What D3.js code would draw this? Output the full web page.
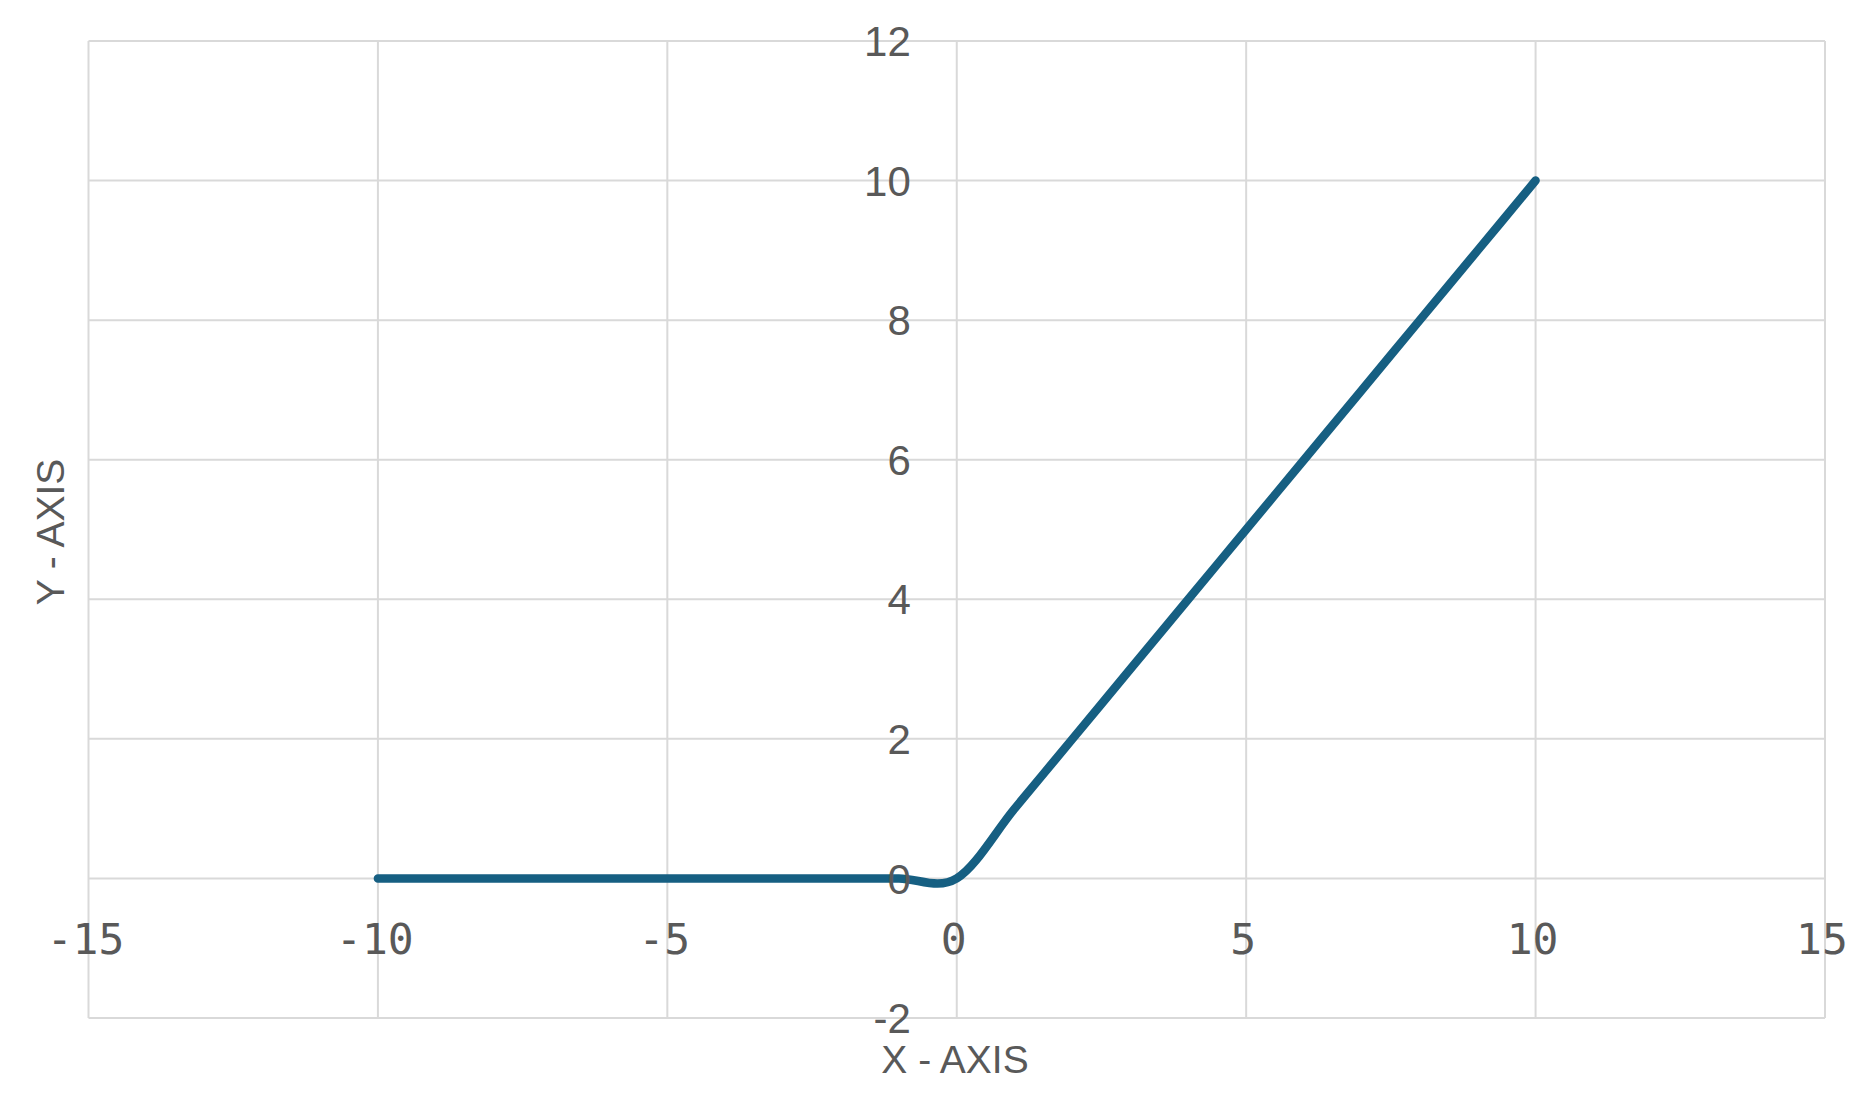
<!DOCTYPE html>
<html>
<head>
<meta charset="utf-8">
<script src="https://cdn.jsdelivr.net/npm/d3@7"></script>
<style>
  html, body { margin: 0; padding: 0; background: #ffffff; }
  svg { display: block; }
</style>
</head>
<body>
<svg id="chart" width="1868" height="1104"></svg>
<script>
// ---- data ----
const xValues = [-10, -9, -8, -7, -6, -5, -4, -3, -2, -1, 0, 1, 2, 3, 4, 5, 6, 7, 8, 9, 10];
const yValues = [0, 0, 0, 0, 0, 0, 0, 0, 0, 0, 0, 1, 2, 3, 4, 5, 6, 7, 8, 9, 10];
const xTicks = [-15, -10, -5, 0, 5, 10, 15];
const yTicks = [-2, 0, 2, 4, 6, 8, 10, 12];
const xTitle = "X - AXIS";
const yTitle = "Y - AXIS";

const points = xValues.map((x, i) => ({ x, y: yValues[i] }));

const svg = d3.select("#chart");
svg.append("rect").attr("width", 1868).attr("height", 1104).attr("fill", "#ffffff");

const plot = { left: 88.5, right: 1825, top: 41, bottom: 1018 };
const x = d3.scaleLinear().domain([-15, 15]).range([plot.left, plot.right]);
const y = d3.scaleLinear().domain([-2, 12]).range([plot.bottom, plot.top]);

const gridColor = "#d9d9d9";
const textColor = "#595959";

// gridlines (also form the outer border)
svg.append("g").selectAll("line.vx").data(xTicks).join("line")
  .attr("x1", d => x(d)).attr("x2", d => x(d))
  .attr("y1", plot.top).attr("y2", plot.bottom)
  .attr("stroke", gridColor).attr("stroke-width", 2);
svg.append("g").selectAll("line.hy").data(yTicks).join("line")
  .attr("x1", plot.left).attr("x2", plot.right)
  .attr("y1", d => y(d)).attr("y2", d => y(d))
  .attr("stroke", gridColor).attr("stroke-width", 2);

// series line (smoothed like Excel)
const line = d3.line()
  .x(d => x(d.x)).y(d => y(d.y))
  .curve(d3.curveCardinal.tension(0));
svg.append("path").datum(points)
  .attr("d", line)
  .attr("fill", "none")
  .attr("stroke", "#165f82")
  .attr("stroke-width", 8.5)
  .attr("stroke-linecap", "round")
  .attr("stroke-linejoin", "round");

// y tick labels along x = 0
svg.append("g").selectAll("text").data(yTicks).join("text")
  .attr("x", x(0) - 46)
  .attr("y", d => y(d))
  .attr("dy", "0.36em")
  .attr("text-anchor", "end")
  .attr("font-family", "'Liberation Sans', Arial, sans-serif")
  .attr("font-size", 42)
  .attr("fill", textColor)
  .text(d => d);

// x tick labels along y = 0
svg.append("g").selectAll("text").data(xTicks).join("text")
  .attr("x", d => x(d) - 3)
  .attr("y", y(0) + 60)
  .attr("dy", "0.36em")
  .attr("text-anchor", "middle")
  .attr("font-family", "'DejaVu Sans Mono', monospace")
  .attr("font-size", 43)
  .attr("fill", textColor)
  .text(d => d);

// axis titles
svg.append("text")
  .attr("x", 955).attr("y", 1059).attr("dy", "0.36em")
  .attr("text-anchor", "middle")
  .attr("font-family", "'Liberation Sans', Arial, sans-serif")
  .attr("font-size", 39)
  .attr("fill", textColor)
  .text(xTitle);
svg.append("text")
  .attr("transform", "translate(50,532) rotate(-90)")
  .attr("dy", "0.36em")
  .attr("text-anchor", "middle")
  .attr("font-family", "'Liberation Sans', Arial, sans-serif")
  .attr("font-size", 39)
  .attr("fill", textColor)
  .text(yTitle);
</script>
</body>
</html>
